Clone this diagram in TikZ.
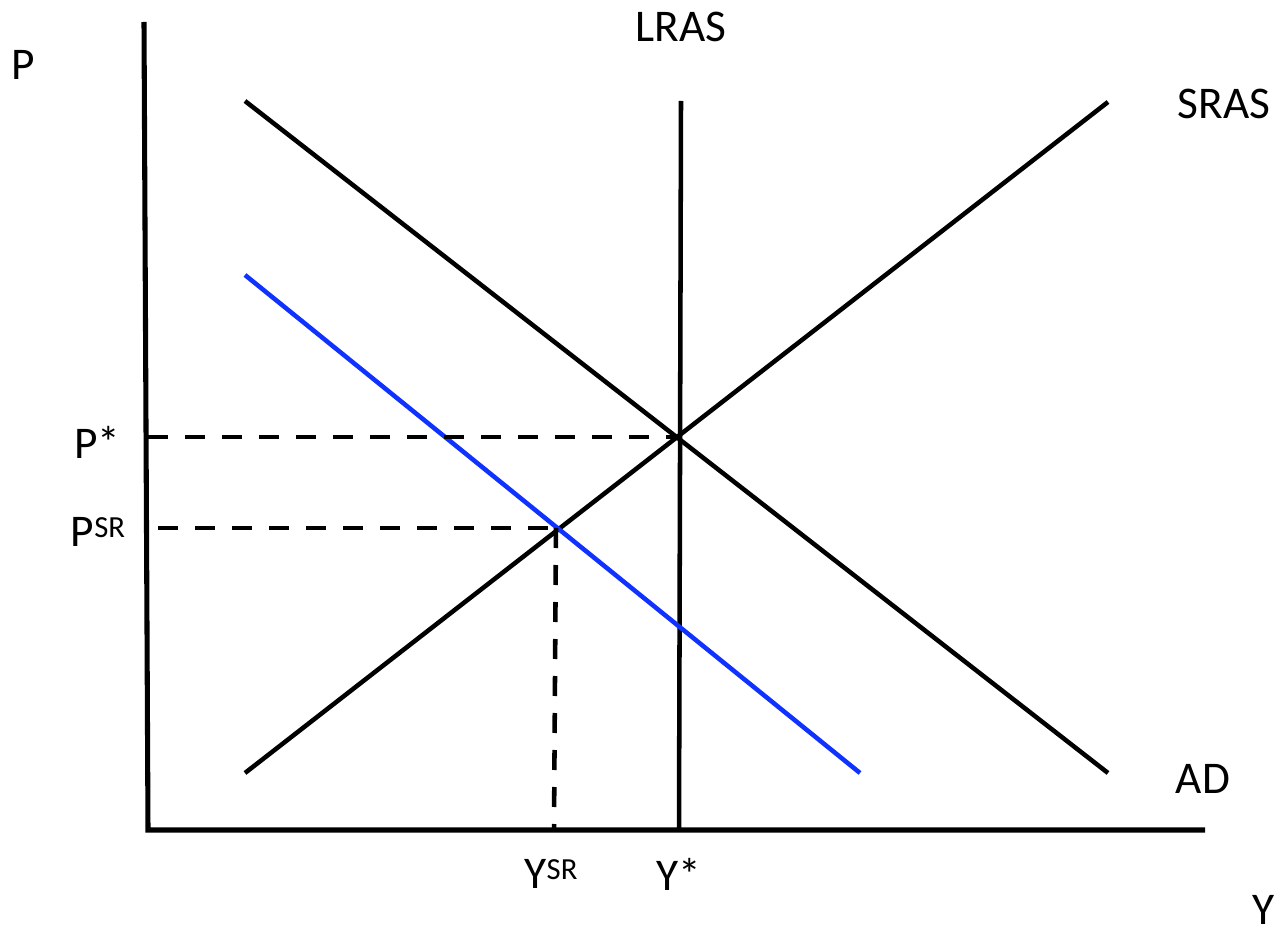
\documentclass[tikz,border=0pt]{standalone}
\usepackage{fontspec}
\setmainfont{Carlito}
\definecolor{adblue}{RGB}{15,50,255}
\newcommand{\supsr}[1]{#1\raisebox{7.4pt}{\fontsize{23}{27}\selectfont SR}}
\begin{document}
\begin{tikzpicture}[x=0.75pt,y=-0.75pt,font=\fontsize{34}{40}\selectfont,
  curve/.style={line width=3.4pt},
  axis/.style={line width=3.8pt,line join=miter},
  guide/.style={line width=3.4pt,dash pattern=on 15pt off 12.75pt},
  lbl/.style={inner sep=0pt}]
\useasboundingbox (0,0) rectangle (1281,930);
% axes
\coordinate (ytop) at (144,22);
\coordinate (o) at (148,830);
\coordinate (xend) at (1205,830);
\draw[axis] (ytop) -- (o) -- (xend);
% curves
\coordinate (lrastop) at (681,101);
\coordinate (lrasbot) at (679,830);
\coordinate (srasbot) at (245,773);
\coordinate (srastop) at (1108,102);
\coordinate (adtop) at (245,101);
\coordinate (adbot) at (1108,773);
\coordinate (adnewtop) at (245,275);
\coordinate (adnewbot) at (860,773);
\draw[curve] (lrastop) -- (lrasbot);
\draw[curve] (srasbot) -- (srastop);
\draw[curve] (adtop) -- (adbot);
\draw[curve,adblue] (adnewtop) -- (adnewbot);
% equilibria
\coordinate (eq) at (679,437);
\coordinate (eqsr) at (556,528);
\coordinate (pstar) at (148,437);
\coordinate (psr) at (158,528);
\coordinate (ysr) at (554,830);
\draw[guide] (pstar) -- (eq);
\draw[guide] (psr) -- (eqsr);
\draw[guide] (eqsr) -- (ysr);
% labels
\node[lbl] (plbl) at (23,65) {P};
\node[lbl] (ylbl) at (1264,910) {Y};
\node[lbl] (lras) at (681,27) {LRAS};
\node[lbl] (sras) at (1224,104) {SRAS};
\node[lbl] (ad) at (1203,779) {AD};
\node[lbl] (pst) at (97,442) {P*};
\node[lbl] (psrl) at (98,532) {\supsr{P}};
\node[lbl] (ysrl) at (551,874) {\supsr{Y}};
\node[lbl] (yst) at (679,874) {Y*};
\end{tikzpicture}
\end{document}
